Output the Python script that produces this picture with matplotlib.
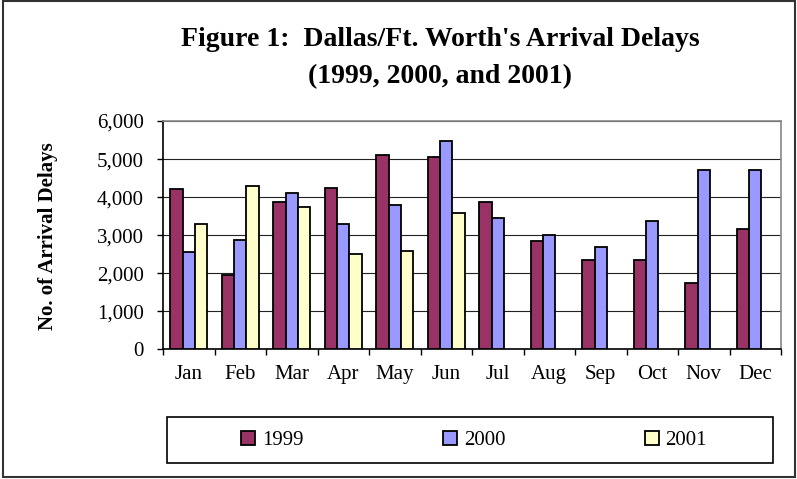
import numpy as np
import matplotlib
matplotlib.use("Agg")
import matplotlib.pyplot as plt
from matplotlib.patches import Rectangle, Patch

# data
months = ["Jan", "Feb", "Mar", "Apr", "May", "Jun",
          "Jul", "Aug", "Sep", "Oct", "Nov", "Dec"]
delays_1999 = [4200, 1940, 3880, 4250, 5100, 5060, 3880, 2840, 2360, 2360, 1750, 3170]
delays_2000 = [2550, 2880, 4110, 3300, 3780, 5480, 3450, 3010, 2700, 3360, 4720, 4720]
delays_2001 = [3300, 4300, 3740, 2500, 2590, 3590, None, None, None, None, None, None]
years = ["1999", "2000", "2001"]
colors = ["#993366", "#9999FF", "#FFFFCC"]

plt.rcParams["font.family"] = ["Liberation Serif", "DejaVu Serif"]

W, H = 797, 479
fig = plt.figure(figsize=(W / 100, H / 100), dpi=100)
ax = fig.add_axes([163 / W, 1 - 349.3 / H, (781 - 163) / W, (349.3 - 121) / H])

x = np.arange(len(months))
w = 0.24
handles = []
for k, (vals, col, yr) in enumerate(zip([delays_1999, delays_2000, delays_2001], colors, years)):
  xs = [xi + (k - 1) * w for xi, v in zip(x, vals) if v is not None]
  vs = [v for v in vals if v is not None]
  ax.bar(xs, vs, width=w, color=col, edgecolor="black", linewidth=1.3, zorder=3)
  handles.append(Patch(facecolor=col, edgecolor="black", linewidth=1.3, label=yr))

ax.set_xlim(-0.5, len(months) - 0.5)
ax.set_ylim(0, 6000)
ax.set_yticks(np.arange(0, 6001, 1000))
ax.set_yticklabels(["{:,}".format(v) for v in range(0, 6001, 1000)], fontsize=15)
ax.set_xticks(x)
ax.set_xticklabels(months, fontsize=15)
ax.set_xticks(np.arange(-0.5, len(months), 1), minor=True)
ax.tick_params(axis="x", which="major", length=0, pad=11)
ax.tick_params(axis="x", which="minor", length=4, width=1, direction="out")
ax.tick_params(axis="y", length=4, width=1, direction="out", pad=10)
ax.yaxis.grid(True, color="#222222", linewidth=0.8, zorder=0)
ax.set_axisbelow(True)

for s in ["top", "right"]:
  ax.spines[s].set_color("#888888")
  ax.spines[s].set_linewidth(1.2)
for s in ["left", "bottom"]:
  ax.spines[s].set_color("black")
  ax.spines[s].set_linewidth(1.2)

fig.text(48 / W, 1 - 236 / H, "No. of Arrival Delays", rotation=90, fontsize=15,
         fontweight="bold", ha="center", va="center")

fig.text(440 / W, 1 - 40 / H, "Figure 1:  Dallas/Ft. Worth's Arrival Delays",
         fontsize=20, fontweight="bold", ha="center", va="center")
fig.text(440 / W, 1 - 77 / H, "(1999, 2000, and 2001)",
         fontsize=20, fontweight="bold", ha="center", va="center")

# legend box
fig.patches.append(Rectangle((167 / W, 1 - 463 / H), (773 - 167) / W, (463 - 417) / H,
                             transform=fig.transFigure, fill=False,
                             edgecolor="black", linewidth=1.2))
fig.legend(handles=handles, loc="center", bbox_to_anchor=(474 / W, 1 - 440.5 / H),
           ncol=3, frameon=False, fontsize=15, handlelength=0.67, handleheight=0.67,
           handletextpad=0.33, columnspacing=6.7, borderpad=0, borderaxespad=0)

# outer frame
fig.patches.append(Rectangle((3 / W, 1 - 477 / H), (795 - 3) / W, (477 - 1) / H,
                             transform=fig.transFigure, fill=False,
                             edgecolor="#333333", linewidth=1.5))

fig.savefig("out.png", dpi=100)
